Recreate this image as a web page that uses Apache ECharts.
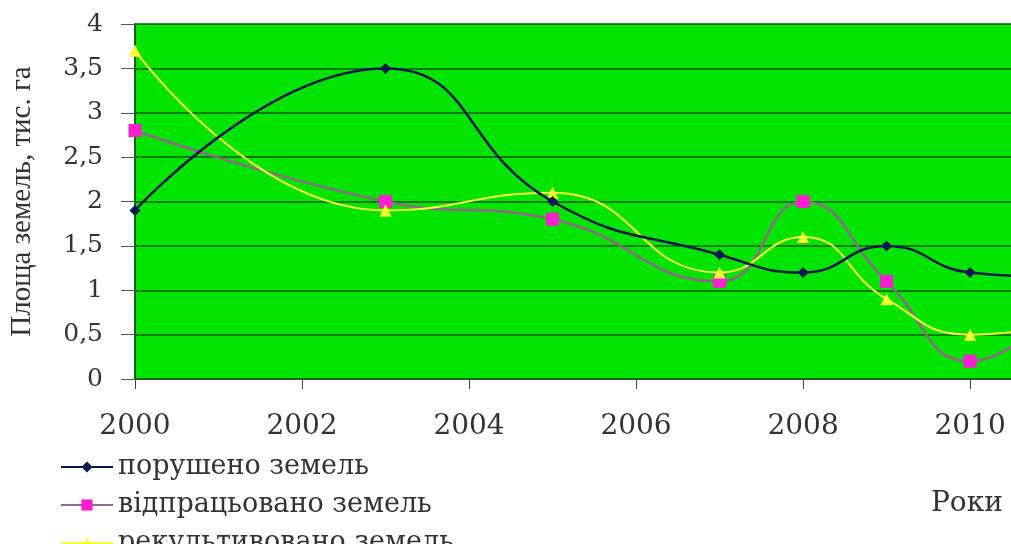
<!DOCTYPE html>
<html>
<head>
<meta charset="utf-8">
<script src="https://cdn.jsdelivr.net/npm/echarts@6/dist/echarts.min.js"></script>
<style>
html,body{margin:0;padding:0;background:#fff;}
#chart{width:1011px;height:544px;}
</style>
</head>
<body>
<div id="chart"></div>
<script>
var years = [2000, 2003, 2005, 2007, 2008, 2009, 2010, 2011];
var disturbed = [1.9, 3.5, 2.0, 1.4, 1.2, 1.5, 1.2, 1.15];
var workedOut = [2.8, 2.0, 1.8, 1.1, 2.0, 1.1, 0.2, 0.75];
var reclaimed = [3.7, 1.9, 2.1, 1.2, 1.6, 0.9, 0.5, 0.6];
var seriesNames = ['порушено земель', 'відпрацьовано земель', 'рекультивовано земель'];
var yAxisTitle = 'Площа земель, тис. га';
var xAxisTitle = 'Роки';

function pairs(vals){ return years.map(function(y,i){ return [y, vals[i]]; }); }

var chart = echarts.init(document.getElementById('chart'));
var serif = 'DejaVu Serif';
chart.setOption({
  animation: false,
  backgroundColor: '#ffffff',
  textStyle: { fontFamily: serif },
  grid: { left: 132, top: 24, bottom: 165, right: 0, show: true, backgroundColor: '#00e400', borderWidth: 0 },
  xAxis: {
    type: 'value', min: 2000, max: 2010.49, interval: 2,
    axisLine: { lineStyle: { color: '#17621a', width: 2 } },
    axisTick: { show: true, length: 10, lineStyle: { color: '#444', width: 1 } },
    axisLabel: { margin: 34, fontSize: 28, color: '#333', fontFamily: serif, showMaxLabel: false,
      formatter: function(v){ return String(v); } },
    splitLine: { show: false }
  },
  yAxis: {
    type: 'value', min: 0, max: 4, interval: 0.5,
    name: yAxisTitle, nameLocation: 'middle', nameGap: 98, nameRotate: 90,
    nameTextStyle: { fontFamily: 'Liberation Serif', fontSize: 29, color: '#333' },
    axisLine: { show: true, lineStyle: { color: '#17621a', width: 2 } },
    axisTick: { show: true, length: 14, lineStyle: { color: '#555', width: 1 } },
    axisLabel: { margin: 32, fontSize: 25, color: '#333', fontFamily: serif, formatter: function(v){ return String(v).replace('.', ','); } },
    splitLine: { show: true, lineStyle: { color: '#0d5a0f', width: 1.5 } }
  },
  legend: {
    orient: 'vertical', left: 55, top: 448, height: 200, itemGap: 10, itemWidth: 52, itemHeight: 14,
    textStyle: { fontFamily: serif, fontSize: 27, color: '#333', lineHeight: 28 },
    data: seriesNames
  },
  graphic: [{
    type: 'text', left: 931, top: 490,
    style: { text: xAxisTitle, font: '28px "DejaVu Serif"', fill: '#333' }
  }],
  series: [
    {
      name: seriesNames[0], type: 'line', smooth: 0.5, data: pairs(disturbed),
      symbol: 'diamond', symbolSize: 11,
      lineStyle: { color: '#0b1a4e', width: 2.5 },
      itemStyle: { color: '#0b1a4e' }, z: 3
    },
    {
      name: seriesNames[1], type: 'line', smooth: 0.5, data: pairs(workedOut),
      symbol: 'rect', symbolSize: 13,
      lineStyle: { color: '#8f6a86', width: 2.5 },
      itemStyle: { color: '#ff1fd0' }, z: 2
    },
    {
      name: seriesNames[2], type: 'line', smooth: 0.5, data: pairs(reclaimed),
      symbol: 'triangle', symbolSize: 12,
      lineStyle: { color: '#f4ff3c', width: 2 },
      itemStyle: { color: '#ffff30' }, z: 2
    }
  ]
});
</script>
</body>
</html>
